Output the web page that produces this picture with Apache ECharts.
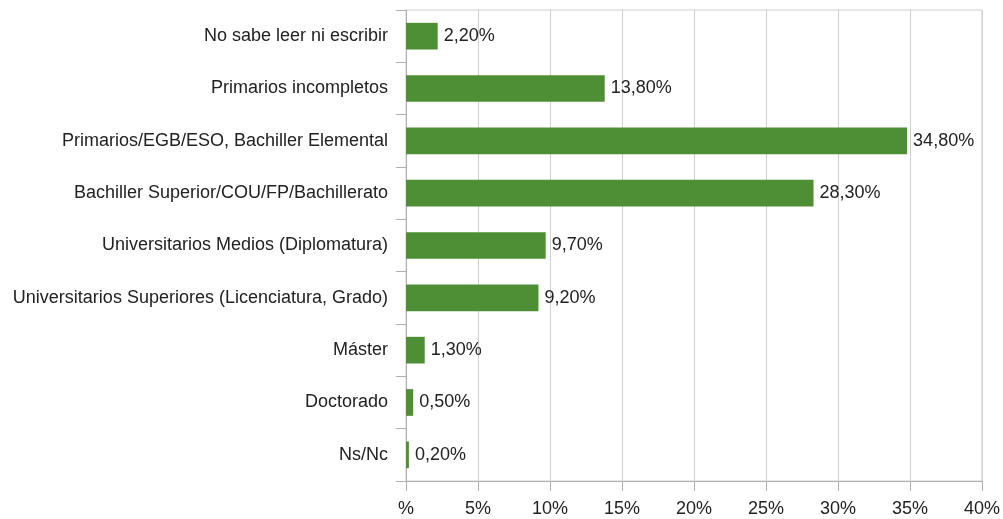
<!DOCTYPE html>
<html>
<head>
<meta charset="utf-8">
<script src="https://cdn.jsdelivr.net/npm/echarts@6/dist/echarts.min.js"></script>
<style>
  html, body { margin: 0; padding: 0; background: #ffffff; }
  #chart { width: 1003px; height: 519px; }
</style>
</head>
<body>
<div id="chart"></div>
<script>
// Nivel de estudios
const categories = [
  'No sabe leer ni escribir',
  'Primarios incompletos',
  'Primarios/EGB/ESO, Bachiller Elemental',
  'Bachiller Superior/COU/FP/Bachillerato',
  'Universitarios Medios (Diplomatura)',
  'Universitarios Superiores (Licenciatura, Grado)',
  'Máster',
  'Doctorado',
  'Ns/Nc'
];
const values = [2.2, 13.8, 34.8, 28.3, 9.7, 9.2, 1.3, 0.5, 0.2];
const axisTicks = [0, 5, 10, 15, 20, 25, 30, 35, 40];

const FONT = 'Liberation Sans';
const chart = echarts.init(document.getElementById('chart'));

chart.setOption({
  animation: false,
  textStyle: { fontFamily: FONT },
  grid: {
    left: 406, right: 21, top: 10, bottom: 38,
    show: true, borderColor: '#d0d0d0', borderWidth: 1
  },
  xAxis: {
    type: 'value',
    min: axisTicks[0],
    max: axisTicks[axisTicks.length - 1],
    interval: 5,
    axisLine: { show: true, lineStyle: { color: '#b0b0b0' } },
    axisTick: { show: true, length: 10, lineStyle: { color: '#b0b0b0' } },
    splitLine: { show: true, lineStyle: { color: '#d0d0d0' } },
    axisLabel: {
      color: '#222', fontSize: 18, margin: 19,
      formatter: v => (v === 0 ? '%' : v + '%')
    }
  },
  yAxis: {
    type: 'category',
    data: categories,
    inverse: true,
    axisLine: { show: true, lineStyle: { color: '#b0b0b0' } },
    axisTick: { show: true, length: 10, lineStyle: { color: '#b0b0b0' } },
    splitLine: { show: false },
    axisLabel: { color: '#222', fontSize: 18, margin: 18 }
  },
  series: [{
    type: 'bar',
    data: values,
    barWidth: '51%',
    itemStyle: { color: '#4e8f36' },
    label: {
      show: true,
      position: 'right',
      distance: 6,
      color: '#222',
      fontSize: 18,
      formatter: p => p.value.toFixed(2).replace('.', ',') + '%'
    }
  }]
});
</script>
</body>
</html>
